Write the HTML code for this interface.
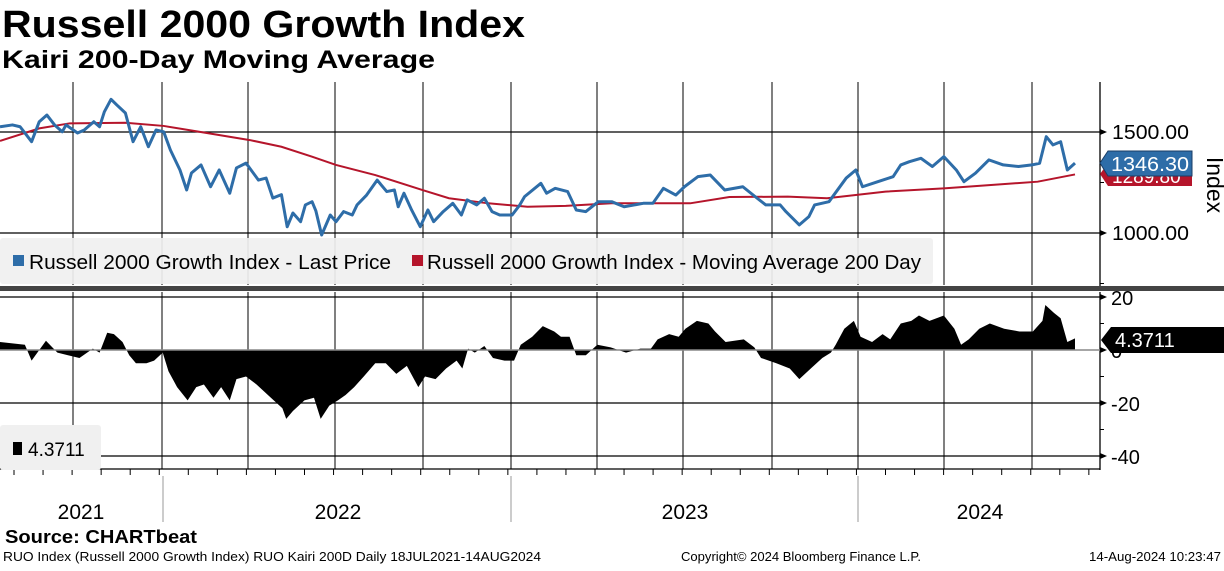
<!DOCTYPE html>
<html><head><meta charset="utf-8">
<style>
body{margin:0;background:#fff;}
svg text{font-family:"Liberation Sans","DejaVu Sans",sans-serif;}
</style></head>
<body>
<svg id="chart" width="1224" height="566" viewBox="0 0 1224 566" xmlns="http://www.w3.org/2000/svg">
<text x="2" y="37" font-size="38" font-weight="bold" textLength="523" lengthAdjust="spacingAndGlyphs">Russell 2000 Growth Index</text>
<text x="2" y="68" font-size="25" font-weight="bold" textLength="433" lengthAdjust="spacingAndGlyphs">Kairi 200-Day Moving Average</text>
<g id="grid"></g>
<g id="marks"></g>
<g id="overlay"></g>
</svg>
<script>
const priceDays=[0,13,21,33,41,49,57,65,69,81,88,98,104,109,116,122,131,139,147,155,163,171,178,188,195,200,210,220,229,240,247,257,270,278,285,294,300,306,314,319,326,330,336,345,351,359,368,373,383,394,404,412,416,422,430,439,447,453,463,473,482,488,498,506,514,522,535,543,548,565,571,580,593,602,612,625,639,652,672,682,693,706,715,729,742,757,776,791,800,815,821,835,845,851,866,884,894,901,917,933,941,950,962,974,986,999,1007,1019,1033,1048,1064,1078,1086,1093,1100,1108,1115,1123];
const priceValues=[1526,1535,1526,1452,1551,1584,1535,1501,1535,1495,1510,1551,1526,1600,1662,1634,1594,1452,1526,1427,1510,1501,1411,1312,1213,1297,1337,1229,1312,1197,1322,1346,1262,1272,1173,1190,1031,1099,1056,1139,1155,1109,990,1089,1056,1106,1089,1139,1188,1262,1205,1213,1130,1197,1114,1031,1114,1056,1106,1147,1089,1164,1139,1172,1106,1089,1089,1139,1180,1246,1197,1221,1205,1114,1106,1155,1155,1130,1147,1147,1221,1188,1229,1279,1287,1213,1229,1172,1139,1139,1106,1040,1081,1139,1155,1272,1312,1229,1254,1279,1337,1353,1370,1329,1378,1312,1254,1296,1362,1337,1329,1337,1345,1477,1436,1452,1312,1346];
const maDays=[0,41,73,131,171,216,261,294,326,351,392,441,469,510,551,591,639,721,762,823,864,925,986,1048,1084,1123];
const maValues=[1456,1518,1543,1546,1530,1495,1460,1427,1378,1337,1287,1213,1172,1147,1130,1134,1147,1147,1178,1180,1172,1205,1221,1242,1254,1290];
const kairiDays=[0,26,33,48,60,71,83,97,104,112,119,128,135,142,153,161,170,176,185,196,205,213,223,231,240,247,257,268,283,295,299,306,318,328,335,344,353,361,370,380,392,403,414,425,437,444,455,466,477,483,489,496,506,515,527,537,544,556,567,579,586,595,602,612,624,638,654,669,680,687,699,709,716,728,740,747,758,777,788,795,811,825,835,847,859,868,873,882,892,899,911,922,930,941,952,960,971,986,997,1004,1012,1023,1034,1049,1065,1079,1089,1092,1101,1108,1115,1123];
const kairiValues=[3,2,-4,3.5,-1,-2,-3,0.5,-1,6.5,6,3,-2,-5,-5,-4,-1,-8,-14,-19,-14,-13,-18,-14,-19,-11,-10,-13,-18,-22,-26,-23,-19,-18,-26,-21,-19,-17,-14,-10,-5,-5,-9,-6,-14,-10,-11,-7,-4,-7,0.5,-1,1.5,-3,-4,-4,2,5,9,7,5,5,-2,-2,2,1,-1,0.5,0.5,4,6,5,8,11,10,7,3,4,1,-3,-5,-7,-11,-7,-3,-1,2,8,11,5,3,6,4,10,11,13,11,13,8,2,4,8,10,8,7,7,11,17,14,12,3,4.37];
const priceTicks=[1000,1500];
const kairiTicks=[20,0,-20,-40];
const years=["2021","2022","2023","2024"];
const lastPrice="1346.30", lastMA="1289.80", lastKairi="4.3711";

const NS="http://www.w3.org/2000/svg";
const X0=0,X1=1075,TOTAL=1123;
const x=d=>X0+d*(X1-X0)/TOTAL;
const yP=v=>132+(1500-v)*101/500;
const yK=v=>350-v*53/20;
function mk(tag,attrs,parent){const e=document.createElementNS(NS,tag);for(const k in attrs)e.setAttribute(k,attrs[k]);parent.appendChild(e);return e;}
const grid=document.getElementById('grid'),marks=document.getElementById('marks'),ov=document.getElementById('overlay');

const qx=[73,162,248,335,423,511,597,683,772,858,944,1032];
qx.forEach(v=>{const l=mk('line',{x1:v,x2:v,y1:82,y2:285,stroke:'#000','stroke-width':1},grid);

const l2=mk('line',{x1:v,x2:v,y1:292,y2:469,stroke:'#000','stroke-width':1},grid);
});
priceTicks.forEach(t=>{const l=mk('line',{x1:0,x2:1100,y1:yP(t),y2:yP(t),stroke:'#000','stroke-width':1.3},grid);

const tx=mk('text',{x:1112,y:yP(t)+7,'font-size':20,textLength:77,lengthAdjust:'spacingAndGlyphs'},grid);tx.textContent=t.toFixed(2);

mk('path',{d:`M1100 ${yP(t)-3} L1107 ${yP(t)} L1100 ${yP(t)+3}Z`,fill:'#000'},grid);});
kairiTicks.forEach(t=>{if(t!==0){const l=mk('line',{x1:0,x2:1100,y1:yK(t),y2:yK(t),stroke:'#000','stroke-width':1.3},grid);
}
const tx=mk('text',{x:1111,y:yK(t)+8,'font-size':20},grid);tx.textContent=String(t);

mk('path',{d:`M1100 ${yK(t)-3} L1107 ${yK(t)} L1100 ${yK(t)+3}Z`,fill:'#000'},grid);});
[1250,750].forEach(t=>mk('line',{x1:1100,x2:1104,y1:yP(t),y2:yP(t),stroke:'#000'},grid));
[10,-10,-30].forEach(t=>mk('line',{x1:1100,x2:1104,y1:yK(t),y2:yK(t),stroke:'#000'},grid));
mk('line',{x1:1100,x2:1100,y1:82,y2:286,stroke:'#000','stroke-width':1.3},grid);
mk('line',{x1:1100,x2:1100,y1:292,y2:470,stroke:'#000','stroke-width':1.3},grid);
mk('line',{x1:0,x2:1100,y1:469,y2:469,stroke:'#000','stroke-width':1.3},grid);
for(let i=0;i<38;i++){const tx=14+i*29.05;mk('line',{x1:tx,x2:tx,y1:469,y2:475,stroke:'#000'},grid);}
[163,511,858].forEach(v=>{const l=mk('line',{x1:v,x2:v,y1:476,y2:522,stroke:'#999'},grid);
});
const yx=[81,338,685,980];
years.forEach((yr,i)=>{const t=mk('text',{x:yx[i],y:519,'font-size':21,'text-anchor':'middle'},grid);t.textContent=yr;
});

let d=`M${x(kairiDays[0])} ${yK(0)}`;
kairiDays.forEach((dd,i)=>{d+=` L${x(dd)} ${yK(kairiValues[i])}`;});
d+=` L${x(kairiDays[kairiDays.length-1])} ${yK(0)}Z`;
const ka=mk('path',{d:d,fill:'#000'},marks);


const zl=mk('line',{x1:0,x2:1100,y1:yK(0),y2:yK(0),stroke:'#888','stroke-width':1.5},marks);


const ma=mk('polyline',{points:maDays.map((dd,i)=>x(dd)+','+yP(maValues[i])).join(' '),fill:'none',stroke:'#b5152b','stroke-width':2},marks);


const pl=mk('polyline',{points:priceDays.map((dd,i)=>x(dd)+','+yP(priceValues[i])).join(' '),fill:'none',stroke:'#2e6da8','stroke-width':3,'stroke-linejoin':'round'},marks);



const lg=mk('rect',{x:0,y:238,width:933,height:46,fill:'#f0f0f0',rx:3,opacity:0.92},ov);

mk('rect',{x:13,y:255,width:11,height:11,fill:'#2e6da8'},ov);
let t=mk('text',{x:29,y:269,'font-size':20,textLength:362,lengthAdjust:'spacingAndGlyphs'},ov);t.textContent='Russell 2000 Growth Index - Last Price';

mk('rect',{x:412,y:255,width:11,height:11,fill:'#b5152b'},ov);
t=mk('text',{x:427,y:269,'font-size':20,textLength:494,lengthAdjust:'spacingAndGlyphs'},ov);t.textContent='Russell 2000 Growth Index - Moving Average 200 Day';

const sep=mk('rect',{x:0,y:286,width:1224,height:5,fill:'#444'},ov);

const lg2=mk('rect',{x:0,y:425,width:101,height:45,fill:'#f0f0f0',rx:3},ov);

mk('rect',{x:13,y:442,width:9,height:13,fill:'#000'},ov);
t=mk('text',{x:28,y:456,'font-size':19},ov);t.textContent=lastKairi;


mk('path',{d:'M1100 174 L1108 163 L1192 163 L1192 186 L1108 186Z',fill:'#b5152b'},ov);
t=mk('text',{x:1112,y:183,'font-size':19,fill:'#fff'},ov);t.textContent=lastMA;

mk('path',{d:'M1100 163 L1108 151 L1192 151 L1192 176 L1108 176Z',fill:'#2e6da8',stroke:'#1a3d66'},ov);
t=mk('text',{x:1111,y:171,'font-size':20,fill:'#fff',textLength:78,lengthAdjust:'spacingAndGlyphs'},ov);t.textContent=lastPrice;

mk('path',{d:'M1101 340 L1111 327 L1224 327 L1224 353 L1111 353Z',fill:'#000'},ov);
t=mk('text',{x:1115,y:347,'font-size':20,fill:'#fff'},ov);t.textContent=lastKairi;

t=mk('text',{x:1217,y:175,'font-size':23,transform:'rotate(90 1207 175)','text-anchor':'middle'},ov);t.textContent='Index';


t=mk('text',{x:5,y:543,'font-size':18,'font-weight':'bold',textLength:192,lengthAdjust:'spacingAndGlyphs'},ov);t.textContent='Source: CHARTbeat';

t=mk('text',{x:3,y:561,'font-size':12.5,textLength:538,lengthAdjust:'spacingAndGlyphs'},ov);t.textContent='RUO Index (Russell 2000 Growth Index) RUO Kairi 200D  Daily 18JUL2021-14AUG2024';

t=mk('text',{x:681,y:561,'font-size':12.5,textLength:240,lengthAdjust:'spacingAndGlyphs'},ov);t.textContent='Copyright© 2024 Bloomberg Finance L.P.';

t=mk('text',{x:1089,y:561,'font-size':12.5,textLength:132,lengthAdjust:'spacingAndGlyphs'},ov);t.textContent='14-Aug-2024 10:23:47';

</script>
</body></html>
